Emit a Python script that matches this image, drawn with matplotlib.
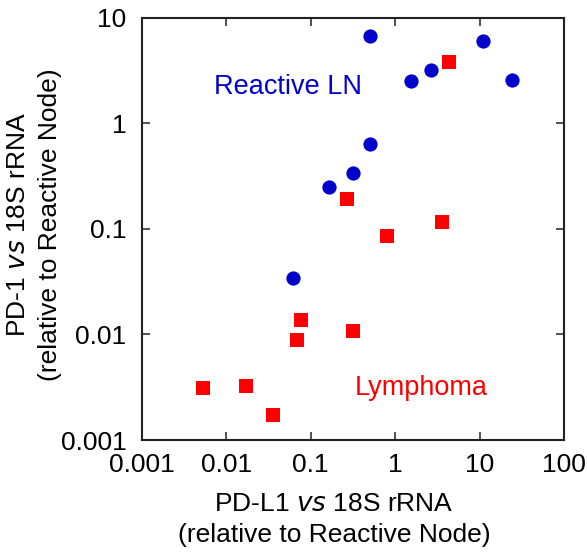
import matplotlib
matplotlib.use('Agg')
import matplotlib.pyplot as plt

plt.rcParams['font.family'] = ['Liberation Sans', 'DejaVu Sans']

# Reactive lymph node samples (blue circles)
reactive_pdl1 = [0.51, 1.56, 2.66, 11.0, 24.4, 0.50, 0.318, 0.167, 0.0625]
reactive_pd1 = [6.7, 2.5, 3.2, 5.97, 2.55, 0.64, 0.34, 0.249, 0.034]

# Lymphoma samples (red squares)
lymph_pdl1 = [4.38, 0.27, 0.796, 3.63, 0.0776, 0.0684, 0.318, 0.00532, 0.0172, 0.0362]
lymph_pd1 = [3.78, 0.193, 0.085, 0.115, 0.0136, 0.00877, 0.01076, 0.00308, 0.00322, 0.00171]

x_ticks = [0.001, 0.01, 0.1, 1, 10, 100]
x_ticklabels = ['0.001', '0.01', '0.1', '1', '10', '100']
y_ticks = [0.001, 0.01, 0.1, 1, 10]
y_ticklabels = ['0.001', '0.01', '0.1', '1', '10']

BLUE = '#0000cc'
RED = '#ff0000'

fig = plt.figure(figsize=(5.87, 5.56), dpi=100)
ax = fig.add_axes([0.2414, 0.2086, 0.7194, 0.7596])

ax.scatter(reactive_pdl1, reactive_pd1, s=105, marker='o', color=BLUE,
           linewidths=0, zorder=3)
ax.scatter(lymph_pdl1, lymph_pd1, s=110, marker='s', color=RED,
           linewidths=0, zorder=3)

ax.set_xscale('log')
ax.set_yscale('log')
ax.set_xlim(0.001, 100)
ax.set_ylim(0.001, 10)
ax.set_xticks(x_ticks)
ax.set_xticklabels(x_ticklabels)
ax.set_yticks(y_ticks)
ax.set_yticklabels(y_ticklabels)
ax.minorticks_off()

ax.tick_params(axis='both', which='major', direction='in', length=6,
               width=1.2, color='#333333', labelsize=19,
               top=True, right=True)
ax.tick_params(axis='x', pad=9)
ax.tick_params(axis='y', pad=11)
for sp in ax.spines.values():
    sp.set_linewidth(1.5)
    sp.set_color('#222222')

ax.text(0.0072, 2.2, 'Reactive LN', color=BLUE, fontsize=19.5,
        ha='left', va='center')
ax.text(0.336, 0.0031, 'Lymphoma', color=RED, fontsize=19.5,
        ha='left', va='center')

ax.set_xlabel('PD-L1 $\\it{vs}$ 18S rRNA\n(relative to Reactive Node)',
              fontsize=19, linespacing=1.38)
ax.xaxis.set_label_coords(0.455, -0.122)
ax.set_ylabel('PD-1 $\\it{vs}$ 18S rRNA\n(relative to Reactive Node)',
              fontsize=19, linespacing=1.45)
ax.yaxis.set_label_coords(-0.188, 0.51)

fig.savefig('out.png', dpi=100)
